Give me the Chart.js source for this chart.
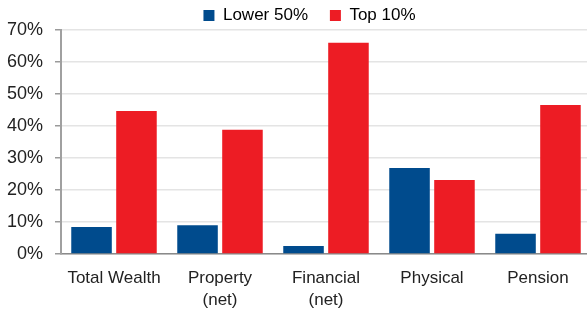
<!DOCTYPE html>
<html>
<head>
<meta charset="utf-8">
<script src="https://cdn.jsdelivr.net/npm/chart.js@4/dist/chart.umd.min.js"></script>
<style>
  html, body { margin: 0; padding: 0; background: #ffffff; overflow: hidden; }
  #outer { width: 587px; height: 313px; overflow: hidden; position: relative; }
  #wrap { width: 591px; height: 313px; position: relative; }
</style>
</head>
<body>
<div id="outer"><div id="wrap"><canvas id="c"></canvas></div></div>
<script>
const categories = [["Total Wealth"], ["Property", "(net)"], ["Financial", "(net)"], ["Physical"], ["Pension"]];
const lower50 = [8.4, 9.0, 2.5, 26.9, 6.3];
const top10 = [44.7, 38.8, 66.0, 23.1, 46.6];
const yTicks = [0, 10, 20, 30, 40, 50, 60, 70];
const seriesNames = ["Lower 50%", "Top 10%"];

const FONT = "'Liberation Sans', Arial, sans-serif";

const legendShift = {
  id: 'legendShift',
  afterLayout(chart) { if (chart.legend) { chart.legend.left += 28; } }
};

new Chart(document.getElementById('c'), {
  type: 'bar',
  data: {
    labels: categories,
    datasets: [
      { label: seriesNames[0], data: lower50, backgroundColor: '#004B8D', borderWidth: 0,
        categoryPercentage: 0.848, barPercentage: 0.902 },
      { label: seriesNames[1], data: top10, backgroundColor: '#ED1C24', borderWidth: 0,
        categoryPercentage: 0.848, barPercentage: 0.902 }
    ]
  },
  plugins: [legendShift],
  options: {
    responsive: true,
    maintainAspectRatio: false,
    animation: false,
    devicePixelRatio: 1,
    layout: { padding: { left: 0, right: 0, top: 4, bottom: 0 } },
    plugins: {
      tooltip: { enabled: false },
      legend: {
        display: true,
        position: 'top',
        align: 'center',
        maxHeight: 26,
        labels: {
          boxWidth: 11,
          boxHeight: 11,
          padding: 3,
          color: '#222',
          font: { family: FONT, size: 17 },
          generateLabels: (chart) => chart.data.datasets.map((ds, i) => ({
            text: i === 0 ? ds.label + '    ' : ds.label,
            fillStyle: ds.backgroundColor,
            strokeStyle: ds.backgroundColor,
            lineWidth: 0,
            hidden: false,
            datasetIndex: i
          }))
        }
      }
    },
    scales: {
      x: {
        grid: { display: false, drawTicks: false },
        border: { display: true, color: '#8a8a8a', width: 1.5 },
        ticks: {
          color: '#222',
          padding: 13,
          maxRotation: 0,
          autoSkip: false,
          font: { family: FONT, size: 17, lineHeight: 1.3 }
        },
        afterFit: (s) => { s.height = 59; }
      },
      y: {
        min: 0,
        max: 70,
        afterBuildTicks: (s) => { s.ticks = yTicks.map(v => ({ value: v })); },
        grid: { color: '#e4e4e4', lineWidth: 1.5, tickLength: 6, tickColor: '#9a9a9a', drawTicks: true },
        border: { display: true, color: '#a0a0a0', width: 2 },
        ticks: {
          color: '#222',
          padding: 12,
          font: { family: FONT, size: 18 },
          callback: (v) => v + '%'
        },
        afterFit: (s) => { s.width = 61; }
      }
    }
  }
});
</script>
</body>
</html>
